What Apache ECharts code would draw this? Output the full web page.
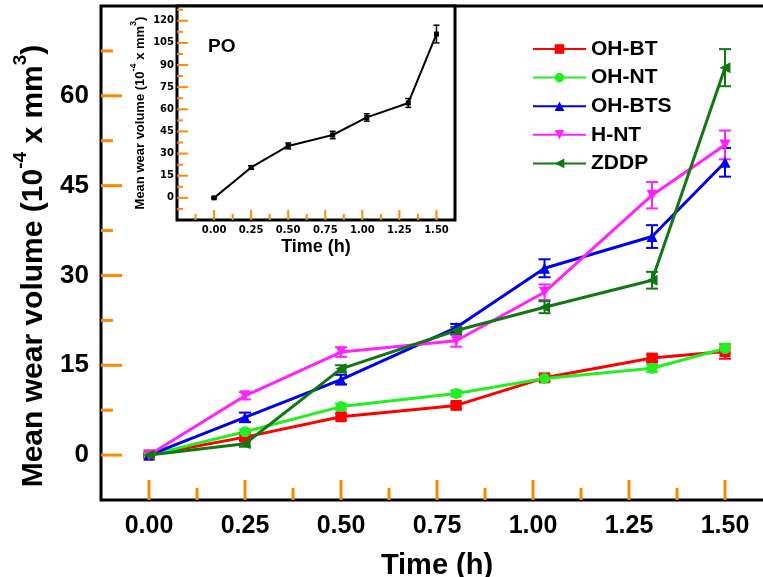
<!DOCTYPE html>
<html><head><meta charset="utf-8">
<script src="https://cdn.jsdelivr.net/npm/echarts@6/dist/echarts.min.js"></script>
<style>html,body{margin:0;padding:0;background:#fff}#c{width:763px;height:577px}</style>
</head><body><div id="c"></div>
<script>
// ---- data ----
const times = [0, 0.25, 0.5, 0.8, 1.03, 1.31, 1.5];
const xTickLabels = [0, 0.25, 0.5, 0.75, 1.0, 1.25, 1.5];
const xMinorTicks = [0.125, 0.375, 0.625, 0.875, 1.125, 1.375];
const yTickLabels = [0, 15, 30, 45, 60];
const yMinorTicks = [7.5, 22.5, 37.5, 52.5, 67.5];
const insetXMinorTicks = [-0.125, 0.125, 0.375, 0.625, 0.875, 1.125, 1.375];
const insetYTickLabels = [0, 15, 30, 45, 60, 75, 90, 105, 120];
const insetYMinorTicks = [-7.5, 7.5, 22.5, 37.5, 52.5, 67.5, 82.5, 97.5, 112.5, 127.5];
const seriesNames = ['OH-BT', 'OH-NT', 'OH-BTS', 'H-NT', 'ZDDP'];
const ohbt   = [0, 3.0, 6.4, 8.3, 12.9, 16.2, 17.3];
const ohbtE  = [0.2, 0.4, 0.5, 0.5, 0.5, 0.6, 1.2];
const ohnt   = [0, 3.9, 8.1, 10.3, 12.8, 14.5, 17.8];
const ohntE  = [0.2, 0.4, 0.5, 0.5, 0.5, 0.6, 0.8];
const ohbts  = [0, 6.3, 12.6, 21.3, 31.2, 36.5, 48.9];
const ohbtsE = [0.2, 0.8, 0.8, 0.6, 1.5, 1.9, 2.4];
const hnt    = [0, 9.9, 17.2, 19.1, 27.2, 43.4, 51.8];
const hntE   = [0.2, 0.6, 0.8, 1.0, 1.3, 2.2, 2.4];
const zddp   = [0, 1.9, 14.4, 20.8, 24.7, 29.2, 64.7];
const zddpE  = [0.2, 0.5, 0.6, 0.6, 1.0, 1.4, 3.1];
const po     = [0, 20.6, 35.2, 42.6, 54.5, 64.3, 111];
const poE    = [0.5, 1.2, 2.0, 2.5, 2.5, 3.0, 6.0];

// ---- axis ranges ----
const MX = [-0.125, 1.625], MY = [-7.5, 75];
const IX = [-0.25, 1.625], IY = [-15, 130];

// ---- styles ----
const FONT = '"Liberation Sans", Arial, sans-serif';
const colors = ['#ff0000', '#22ee22', '#0000ee', '#ff22ff', '#117711'];
const symbols = ['rect', 'circle', 'triangle', 'triangle', 'triangle'];
const rotates = [0, 0, 0, 180, 90];
const values = [ohbt, ohnt, ohbts, hnt, zddp];
const errs = [ohbtE, ohntE, ohbtsE, hntE, zddpE];

function errSeries(vals, err, color, xi, yi, cap, lw, z) {
  return {
    type: 'custom', xAxisIndex: xi, yAxisIndex: yi, z: z, silent: true,
    data: times.map((t, i) => [t, vals[i], err[i]]),
    encode: {x: 0, y: 1},
    renderItem: function (params, api) {
      const x = api.value(0), y = api.value(1), e = api.value(2);
      const a = api.coord([x, y + e]), b = api.coord([x, y - e]);
      const st = {stroke: color, lineWidth: lw};
      return {type: 'group', children: [
        {type: 'line', shape: {x1: a[0], y1: a[1], x2: b[0], y2: b[1]}, style: st},
        {type: 'line', shape: {x1: a[0] - cap, y1: a[1], x2: a[0] + cap, y2: a[1]}, style: st},
        {type: 'line', shape: {x1: b[0] - cap, y1: b[1], x2: b[0] + cap, y2: b[1]}, style: st}
      ]};
    }
  };
}

// inward tick marks placed through the axes' scales
function tickSeries(xi, yi, xr, yr, xMaj, xMin, yMaj, yMin, lMaj, lMin, lw, z, col) {
  const data = [];
  xMaj.forEach(v => data.push([v, yr[0], lMaj, 0]));
  xMin.forEach(v => data.push([v, yr[0], lMin, 0]));
  yMaj.forEach(v => data.push([xr[0], v, lMaj + 1, 1]));
  yMin.forEach(v => data.push([xr[0], v, lMin, 1]));
  return {
    type: 'custom', xAxisIndex: xi, yAxisIndex: yi, z: z, silent: true, clip: false,
    data: data, encode: {x: 0, y: 1},
    renderItem: function (params, api) {
      const p = api.coord([api.value(0), api.value(1)]);
      const L = api.value(2), d = api.value(3);
      const shape = d === 0 ? {x1: p[0], y1: p[1], x2: p[0], y2: p[1] - L}
                            : {x1: p[0], y1: p[1], x2: p[0] + L, y2: p[1]};
      return {type: 'line', shape: shape, style: {stroke: col, lineWidth: lw}};
    }
  };
}

const series = [];
values.forEach((v, i) => {
  series.push({
    name: seriesNames[i], type: 'line', xAxisIndex: 0, yAxisIndex: 0, z: 4,
    data: times.map((t, k) => [t, v[k]]),
    symbol: symbols[i], symbolRotate: rotates[i], symbolSize: 11,
    lineStyle: {color: colors[i], width: 3}, itemStyle: {color: colors[i]}
  });
  series.push(errSeries(v, errs[i], colors[i], 0, 0, 6, 2, 3));
});
series.push(tickSeries(0, 0, MX, MY, xTickLabels, xMinorTicks, yTickLabels, yMinorTicks, 20, 12, 3, 25, '#ff8800'));
series.push({
  name: 'PO', type: 'line', xAxisIndex: 2, yAxisIndex: 2, z: 30,
  data: times.map((t, k) => [t, po[k]]),
  symbol: 'rect', symbolSize: 5,
  lineStyle: {color: '#000', width: 2}, itemStyle: {color: '#000'}
});
series.push(errSeries(po, poE, '#000', 2, 2, 3, 1.5, 31));
series.push(tickSeries(2, 2, IX, IY, xTickLabels, insetXMinorTicks, insetYTickLabels, insetYMinorTicks, 10, 6, 2, 35, '#ff8800'));

const noSplit = {show: false};
const noLine = {show: false, onZero: false};
const noTick = {show: false};
const option = {
  backgroundColor: '#fff',
  animation: false,
  title: {text: 'PO', left: 203, top: 32, z: 40, textStyle: {fontFamily: FONT, fontWeight: 'bold', fontSize: 19, color: '#000'}},
  legend: {
    data: seriesNames, orient: 'vertical', left: 527, top: 33,
    itemWidth: 53, itemHeight: 12, itemGap: 6.6,
    textStyle: {fontFamily: FONT, fontWeight: 'bold', fontSize: 21, color: '#000', lineHeight: 22}
  },
  grid: [
    {left: 101, top: 6, right: -10, bottom: 77, outerBoundsMode: 'none',
     show: true, borderColor: '#000', borderWidth: 3},
    {left: 177, top: 6, width: 278, height: 214, outerBoundsMode: 'none',
     show: true, borderColor: '#000', borderWidth: 3, backgroundColor: '#fff', z: 10}
  ],
  xAxis: [
    {gridIndex: 0, type: 'value', min: MX[0], max: MX[1], interval: 0.125,
     axisLine: noLine, splitLine: noSplit, axisLabel: {show: false}, axisTick: noTick},
    {gridIndex: 0, type: 'value', min: MX[0], max: MX[1], position: 'bottom',
     axisLine: noLine, splitLine: noSplit, axisTick: noTick,
     axisLabel: {customValues: xTickLabels, formatter: v => v.toFixed(2), margin: 14,
                 fontFamily: FONT, fontWeight: 'bold', fontSize: 25, color: '#000'},
     name: 'Time (h)', nameLocation: 'middle', nameGap: 51,
     nameTextStyle: {fontFamily: FONT, fontWeight: 'bold', fontSize: 29, color: '#000'}},
    {gridIndex: 1, type: 'value', min: IX[0], max: IX[1], interval: 0.125, z: 30,
     axisLine: noLine, splitLine: noSplit, axisLabel: {show: false}, axisTick: noTick},
    {gridIndex: 1, type: 'value', min: IX[0], max: IX[1], position: 'bottom', z: 30,
     axisLine: noLine, splitLine: noSplit, axisTick: noTick,
     axisLabel: {customValues: xTickLabels, formatter: v => v.toFixed(2), margin: 5,
                 fontFamily: '"DejaVu Sans", sans-serif', fontWeight: 'bold', fontSize: 10, color: '#000'},
     name: 'Time (h)', nameLocation: 'middle', nameGap: 18,
     nameTextStyle: {fontFamily: FONT, fontWeight: 'bold', fontSize: 18, color: '#000'}}
  ],
  yAxis: [
    {gridIndex: 0, type: 'value', min: MY[0], max: MY[1], interval: 7.5,
     axisLine: noLine, splitLine: noSplit, axisLabel: {show: false}, axisTick: noTick},
    {gridIndex: 0, type: 'value', min: MY[0], max: MY[1], position: 'left',
     axisLine: noLine, splitLine: noSplit, axisTick: noTick,
     axisLabel: {customValues: yTickLabels, margin: 12,
                 fontFamily: FONT, fontWeight: 'bold', fontSize: 26, color: '#000'},
     name: '{a|Mean wear volume (10}{s|-4}{a| x mm}{s|3}{a|)}',
     nameLocation: 'middle', nameGap: 50, nameRotate: 90,
     nameTextStyle: {padding: [0, 26, 0, 0], rich: {
       a: {fontFamily: FONT, fontWeight: 'bold', fontSize: 30, color: '#000', lineHeight: 38, verticalAlign: 'bottom'},
       s: {fontFamily: FONT, fontWeight: 'bold', fontSize: 19, color: '#000', lineHeight: 38, verticalAlign: 'top'}
     }}},
    {gridIndex: 1, type: 'value', min: IY[0], max: IY[1], interval: 7.5, z: 30,
     axisLine: noLine, splitLine: noSplit, axisLabel: {show: false}, axisTick: noTick},
    {gridIndex: 1, type: 'value', min: IY[0], max: IY[1], position: 'left', z: 30,
     axisLine: noLine, splitLine: noSplit, axisTick: noTick,
     axisLabel: {customValues: insetYTickLabels, margin: 3,
                 fontFamily: '"DejaVu Sans", sans-serif', fontWeight: 'bold', fontSize: 10, color: '#000'},
     name: '{a|Mean wear volume (10}{s|-4}{a| x mm}{s|3}{a|)}',
     nameLocation: 'middle', nameGap: 30, nameRotate: 90,
     nameTextStyle: {rich: {
       a: {fontFamily: FONT, fontWeight: 'bold', fontSize: 13, color: '#000', lineHeight: 18, verticalAlign: 'bottom'},
       s: {fontFamily: FONT, fontWeight: 'bold', fontSize: 9, color: '#000', lineHeight: 18, verticalAlign: 'top'}
     }}}
  ],
  series: series
};
const chart = echarts.init(document.getElementById('c'), null, {renderer: 'canvas'});
chart.setOption(option);
</script></body></html>
